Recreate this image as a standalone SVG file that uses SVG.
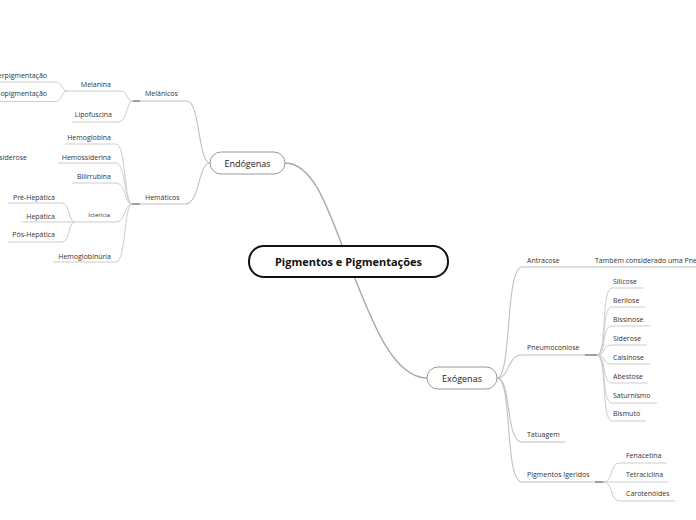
<svg xmlns="http://www.w3.org/2000/svg" width="696" height="520" viewBox="0 0 696 520">
<style>
text{font-family:"Open Sans","Noto Sans","DejaVu Sans",sans-serif;fill:#333}
.t{font-size:7px}
.s{font-size:6px}
.e{text-anchor:end}
.n{font-size:9px;text-anchor:middle;fill:#222}
.c{font-size:11px;font-weight:bold;text-anchor:middle;fill:#111}
.l{fill:none;stroke:#cdcdcd;stroke-width:1}
.m{fill:none;stroke:#a8a8a8;stroke-width:1.4}
.b{fill:none;stroke:#c0c0c0;stroke-width:1.1}
.j{fill:none;stroke:#a0a0a0;stroke-width:2}
.box{fill:#fff;stroke:#999;stroke-width:1}
</style>
<rect width="696" height="520" fill="#fff"/>
<g id="connectors">
<path class="m" d="M348,261 C330,215 315,163 285,163"/>
<path class="m" d="M348,261 C368,310 390,378 427,378"/>
<path class="b" d="M210,163 C198,163 200,101 187,101 L133,101"/>
<path class="b" d="M210,163 C198,163 200,204 185,204 L132,204"/>
<path class="j" d="M133,101 L140,101 M132,204 L140,204"/>
<path class="l" d="M133,101 C126,101 128,91 120,91 L67,91"/>
<path class="l" d="M133,101 C126,101 128,122 118,122 L72,122"/>
<path class="l" d="M67,91 C61,91 63,82 55,82 L0,82"/>
<path class="l" d="M67,91 C61,91 63,101.5 55,101.5 L0,101.5"/>
<path class="l" d="M132,204 C124,204 126,144 116,144 L65,144"/>
<path class="l" d="M132,204 C124,204 126,163 116,163 L58,163"/>
<path class="l" d="M132,204 C124,204 126,183 116,183 L72,183"/>
<path class="l" d="M132,204 C124,204 126,222 116,222 L75,222"/>
<path class="l" d="M132,204 C124,204 126,262 116,262 L53,262"/>
<path class="l" d="M75,222 C68,222 70,203 62,203 L8,203"/>
<path class="l" d="M75,222 L22,222"/>
<path class="l" d="M75,222 C68,222 70,242 62,242 L8,242"/>
<path class="b" d="M497,378 C512,378 505,267 522,267 L696,267"/>
<path class="b" d="M497,378 C510,378 507,355 522,355 L597,355"/>
<path class="b" d="M497,378 C512,378 505,442 522,442 L565,442"/>
<path class="b" d="M497,378 C513,378 504,482 522,482 L603,482"/>
<path class="j" d="M585,355 L597,355 M595,482 L604,482"/>
<path class="l" d="M597,355 C607,355 601,288 612,288 L643,288"/>
<path class="l" d="M597,355 C607,355 601,307 612,307 L645,307"/>
<path class="l" d="M597,355 C607,355 601,326 612,326 L650,326"/>
<path class="l" d="M597,355 C607,355 601,345 612,345 L647,345"/>
<path class="l" d="M597,355 C607,355 601,364 612,364 L650,364"/>
<path class="l" d="M597,355 C607,355 601,383 612,383 L648,383"/>
<path class="l" d="M597,355 C607,355 601,403 612,403 L657,403"/>
<path class="l" d="M597,355 C607,355 601,421 612,421 L646,421"/>
<path class="l" d="M603,482 C614,482 609,463 620,463 L667,463"/>
<path class="l" d="M603,482 L668,482"/>
<path class="l" d="M603,482 C614,482 609,501 620,501 L675,501"/>
</g>
<g id="central">
<rect x="249" y="246" width="199" height="31" rx="15" fill="#fff" stroke="#111" stroke-width="2"/>
<text class="c" x="348.5" y="265.5">Pigmentos e Pigmentações</text>
</g>
<g id="endogenas">
<rect class="box" x="210" y="152" width="75" height="22" rx="11"/>
<text class="n" x="247.5" y="166.5">Endógenas</text>
</g>
<g id="exogenas">
<rect class="box" x="427" y="367" width="70" height="22" rx="11"/>
<text class="n" x="462" y="381.5">Exógenas</text>
</g>
<g id="melanicos"><text class="t" x="145" y="95.5">Melânicos</text></g>
<g id="hematicos"><text class="t" x="145" y="199.5">Hemáticos</text></g>
<g id="melanina"><text class="t e" x="111" y="86.5">Melanina</text></g>
<g id="lipofuscina"><text class="t e" x="112" y="116.5">Lipofuscina</text></g>
<g id="hiper"><text class="t e" x="47" y="77.5">Hiperpigmentação</text></g>
<g id="hipo"><text class="t e" x="47" y="95.5">Hipopigmentação</text></g>
<g id="hemoglobina"><text class="t e" x="111" y="139.5">Hemoglobina</text></g>
<g id="hemossiderina"><text class="t e" x="111" y="159.5">Hemossiderina</text></g>
<g id="hemossiderose"><text class="t e" x="27" y="159.5">Hemossiderose</text></g>
<g id="bilirrubina"><text class="t e" x="111" y="178.5">Bilirrubina</text></g>
<g id="ictericia"><text class="s e" x="110" y="217">Icterícia</text></g>
<g id="prehepatica"><text class="t e" x="55" y="199.5">Pré-Hepática</text></g>
<g id="hepatica"><text class="t e" x="55" y="218.5">Hepática</text></g>
<g id="poshepatica"><text class="t e" x="55" y="236.5">Pós-Hepática</text></g>
<g id="hemoglobinuria"><text class="t e" x="111" y="258.5">Hemoglobinúria</text></g>
<g id="antracose"><text class="t" x="527" y="262.5">Antracose</text></g>
<g id="tambem"><text class="t" x="595" y="262.5">Também considerado uma Pneumoconiose</text></g>
<g id="pneumoconiose"><text class="t" x="527" y="349.5">Pneumoconiose</text></g>
<g id="silicose"><text class="t" x="613" y="283.5">Silicose</text></g>
<g id="berilose"><text class="t" x="613" y="302.5">Berilose</text></g>
<g id="bissinose"><text class="t" x="613" y="321.5">Bissinose</text></g>
<g id="siderose"><text class="t" x="613" y="340.5">Siderose</text></g>
<g id="calsinose"><text class="t" x="613" y="359.5">Calsinose</text></g>
<g id="abestose"><text class="t" x="613" y="378.5">Abestose</text></g>
<g id="saturnismo"><text class="t" x="613" y="397.5">Saturnismo</text></g>
<g id="bismuto"><text class="t" x="613" y="415.5">Bismuto</text></g>
<g id="tatuagem"><text class="t" x="527" y="436.5">Tatuagem</text></g>
<g id="pigmentos-igeridos"><text class="t" x="527" y="476.5">Pigmentos Igeridos</text></g>
<g id="fenacetina"><text class="t" x="626" y="457.5">Fenacetina</text></g>
<g id="tetraciclina"><text class="t" x="626" y="476.5">Tetraciclina</text></g>
<g id="carotenoides"><text class="t" x="626" y="495.5">Carotenóides</text></g>
</svg>
